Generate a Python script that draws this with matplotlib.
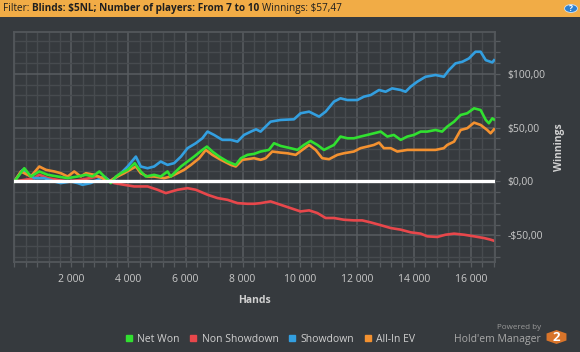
import matplotlib
matplotlib.use("Agg")
import matplotlib.pyplot as plt
from matplotlib.lines import Line2D
from matplotlib.patches import Rectangle, RegularPolygon, Circle
from matplotlib.ticker import MultipleLocator, FixedLocator, FixedFormatter

plt.rcParams['font.family'] = ['Open Sans', 'DejaVu Sans']

# ---------------- data ----------------
net_hands = [0, 350, 580, 875, 1170, 1520, 1870, 2220, 2510, 2740, 2980, 3210, 3380, 3560, 3730, 3970,
             4220, 4430, 4610, 4900, 5130, 5370, 5480, 5600, 5840, 6070, 6300, 6590, 6750, 6940, 7180,
             7470, 7760, 7940, 8170, 8400, 8630, 8920, 9100, 9330, 9680, 9920, 10150, 10380, 10620,
             10850, 11200, 11430, 11670, 11900, 12130, 12370, 12600, 12840, 13070, 13300, 13540, 13770,
             14000, 14240, 14470, 14760, 14990, 15170, 15410, 15640, 15870, 16110, 16340, 16520, 16630,
             16750, 16810]
net_won = [0, 12.3, 4.6, 9.3, 6.2, 4.6, 3.1, 4.6, 6.2, 4.6, 9.3, 3.1, -1.5, 4.6, 7.7, 10.8,
           17.0, 9.3, 4.6, 6.2, 4.6, 9.3, 4.6, 7.7, 13.9, 18.5, 23.1, 29.3, 32.4, 27.8, 23.1,
           18.5, 15.4, 21.6, 24.7, 25.6, 27.8, 29.3, 35.5, 33.0, 30.9, 29.3, 33.9, 37.6, 33.9,
           29.3, 33.9, 41.7, 40.1, 40.1, 41.7, 43.2, 44.7, 46.3, 41.7, 43.2, 38.6, 41.7,
           43.2, 46.3, 46.3, 47.8, 46.3, 50.9, 55.5, 61.7, 63.3, 67.9, 66.3, 57.1, 54.0,
           58.6, 57.5]

nsd_hands = [0, 350, 700, 875, 1170, 1520, 1870, 2330, 2920, 3270, 3500, 3850, 4200, 4670, 5020,
             5310, 5720, 6070, 6360, 6770, 7120, 7470, 7820, 8170, 8400, 8630, 8980, 9330, 9680,
             10030, 10330, 10620, 10910, 11200, 11550, 11900, 12190, 12490, 12780, 13190, 13540,
             13890, 14240, 14470, 14820, 15110, 15410, 15760, 16110, 16460, 16690, 16810]
non_showdown = [0, 1.5, 3.1, 6.2, 3.1, 1.5, 0, 1.5, 4.6, 1.5, -1.5, -3.1, -4.6, -4.6, -7.7,
                -10.8, -7.7, -6.2, -7.7, -12.3, -15.4, -17.0, -20.1, -20.7, -20.7, -20.1, -18.5, -21.6, -24.7,
                -27.8, -26.8, -29.3, -33.9, -33.9, -35.5, -36.1, -36.1, -38.0, -40.1, -43.2, -44.7,
                -47.2, -48.4, -50.9, -51.5, -49.4, -48.4, -49.4, -50.9, -52.5, -54.0, -55.0]

sd_hands = [0, 290, 700, 1050, 1400, 1630, 1980, 2220, 2390, 2680, 2920, 3150, 3380, 3680, 3970,
            4260, 4430, 4670, 4900, 5130, 5370, 5600, 5840, 6070, 6360, 6590, 6770, 7000, 7290,
            7590, 7820, 8050, 8290, 8470, 8630, 8980, 9330, 9800, 10030, 10330, 10680, 10910, 11200,
            11430, 11670, 12020, 12250, 12490, 12780, 13010, 13240, 13540, 13710, 13890, 14120, 14410,
            14760, 15050, 15230, 15460, 15700, 15930, 16160, 16340, 16520, 16750, 16810]
showdown = [0, 10.8, 3.1, 3.1, 0, -1.5, 0, -1.5, -3.1, -1.5, 1.5, 4.6, 0, 6.2, 13.9,
            23.1, 13.9, 12.3, 13.9, 18.5, 15.4, 17.0, 23.1, 30.9, 35.5, 40.1, 46.3, 43.2, 38.6,
            38.6, 37.0, 43.2, 46.3, 48.4, 46.3, 55.5, 57.1, 57.7, 63.3, 64.8, 60.2, 64.8, 74.1,
            77.2, 75.6, 75.6, 78.7, 80.2, 84.9, 83.3, 86.4, 84.9, 83.3, 88.0, 92.6, 97.2,
            98.8, 97.2, 103.4, 109.6, 111.1, 114.2, 120.4, 120.4, 112.6, 110.5, 112.5]

ev_hands = [0, 230, 580, 875, 1110, 1400, 1630, 1870, 2100, 2330, 2510, 2800, 3090, 3330, 3500,
            3850, 4260, 4430, 4670, 4900, 5250, 5480, 5720, 5950, 6190, 6480, 6710, 6940, 7240,
            7590, 7760, 7990, 8400, 8630, 8810, 9040, 9330, 9570, 9860, 10090, 10330, 10560, 10790,
            11030, 11320, 11550, 11900, 12130, 12370, 12600, 12780, 12950, 13190, 13420, 13770, 14120,
            14470, 14760, 15050, 15170, 15410, 15640, 15870, 16110, 16340, 16570, 16690, 16810]
all_in_ev = [0, 9.3, 4.6, 13.9, 10.8, 9.3, 7.7, 4.6, 9.3, 4.6, 7.7, 6.2, 3.1, 0, 3.1,
             7.7, 13.9, 7.7, 4.6, 4.6, 3.1, 4.6, 7.7, 10.8, 15.4, 21.6, 29.3, 24.7, 20.1,
             15.4, 13.9, 20.1, 21.6, 20.1, 21.6, 27.8, 26.8, 26.2, 24.7, 29.3, 33.9, 29.3, 21.6,
             20.7, 24.7, 26.2, 27.8, 30.9, 32.4, 33.9, 36.1, 30.9, 30.9, 27.8, 29.3, 29.3,
             29.3, 29.3, 30.9, 33.9, 37.0, 47.8, 49.4, 54.6, 52.5, 47.8, 44.7, 48.4]

series_names = ["Net Won", "Non Showdown", "Showdown", "All-In EV"]
series_colors = ["#31e030", "#e8474b", "#339fe0", "#f39130"]

x_ticks = [2000, 4000, 6000, 8000, 10000, 12000, 14000, 16000]
x_tick_labels = ["2 000", "4 000", "6 000", "8 000", "10 000", "12 000", "14 000", "16 000"]
y_ticks = [-50, 0, 50, 100]
y_tick_labels = ["-$50,00", "$0,00", "$50,00", "$100,00"]

# ---------------- figure ----------------
BG = "#363a3e"
W, H = 580, 352
fig = plt.figure(figsize=(W / 100, H / 100), dpi=100, facecolor=BG)

def fx(px):
    return px / W

def fy(py):
    return 1 - py / H

ax = fig.add_axes([fx(14.3), fy(262.3), fx(494.6 - 14.3), (262.3 - 31.7) / H])
ax.set_facecolor(BG)

data = [(net_hands, net_won), (nsd_hands, non_showdown), (sd_hands, showdown), (ev_hands, all_in_ev)]
zorders = [5, 2, 3, 4]
for (hx, vy), c, z in zip(data, series_colors, zorders):
    ax.plot(hx, vy, color=c, lw=1.9, zorder=z, solid_joinstyle='round')

ax.axhline(0, color="white", lw=2.4, zorder=6)

ax.set_xlim(0, 16830)
ax.set_ylim(-75, 139)

ax.xaxis.set_major_locator(FixedLocator(x_ticks))
ax.xaxis.set_major_formatter(FixedFormatter(x_tick_labels))
ax.xaxis.set_minor_locator(MultipleLocator(400))
ax.yaxis.set_major_locator(FixedLocator(y_ticks))
ax.yaxis.set_major_formatter(FixedFormatter(y_tick_labels))
ax.yaxis.set_minor_locator(MultipleLocator(10))
ax.yaxis.tick_right()
ax.yaxis.set_label_position("right")

ax.grid(which="minor", color="#474b4f", lw=1.0, zorder=0)
ax.grid(which="major", color="#595d61", lw=1.1, zorder=0)
ax.set_axisbelow(True)

for s in ax.spines.values():
    s.set_color("#53575b")
    s.set_linewidth(1.3)

ax.tick_params(axis="both", which="both", colors="#575b5f", labelcolor="#c9c9c9",
               labelsize=7.5, length=3.5, width=0.9)
ax.tick_params(axis="x", which="major", pad=5)
ax.tick_params(axis="y", which="major", pad=6)
ax.tick_params(axis="y", which="both", left=False, right=True)

ax.set_xlabel("Hands", color="#d0d0d0", fontsize=7.5, fontweight="bold", labelpad=7)
ax.set_ylabel("Winnings", color="#d0d0d0", fontsize=7.5, fontweight="bold", labelpad=6)

# ---------------- header bar ----------------
fig.patches.append(Rectangle((0, fy(16.5)), 1, 16.5 / H, transform=fig.transFigure,
                             facecolor="#f1ac46", edgecolor="none", zorder=1))
fig.patches.append(Circle((fx(571), fy(8.5)), 6.5 / W, transform=fig.transFigure,
                          facecolor="#2d7fd0", edgecolor="#cfe3f7", lw=0.6, zorder=2))
fig.text(fx(571), fy(8.8), "?", color="white", fontsize=6, fontweight="bold",
         ha="center", va="center", zorder=3)

renderer = fig.canvas.get_renderer()
x_cur = 3
parts = [("Filter: ", "normal"), ("Blinds: $5NL; Number of players: From 7 to 10 ", "bold"),
         ("Winnings: $57,47", "normal")]
for txt, wt in parts:
    t = fig.text(fx(x_cur), fy(8.5), txt, color="#1f1f1f", fontsize=7.2, fontweight=wt,
                 ha="left", va="center", zorder=3)
    bb = t.get_window_extent(renderer=renderer)
    x_cur += bb.width

# ---------------- legend ----------------
handles = [Line2D([], [], ls="none", marker="s", markersize=4, color=c) for c in series_colors]
fig.legend(handles, series_names, loc="center", bbox_to_anchor=(fx(270.5), fy(339)), ncol=4,
           frameon=False, fontsize=7.5, labelcolor="#d0d0d0", handlelength=0.6,
           handletextpad=0.5, columnspacing=1.0, borderpad=0)

# ---------------- watermark ----------------
fig.text(fx(541), fy(327.5), "Powered by", color="#9a9a9a", fontsize=5.8, ha="right", va="center")
fig.text(fx(541), fy(339.5), "Hold'em Manager", color="#a8a8a8", fontsize=7.5, ha="right", va="center")
fig.patches.append(RegularPolygon((fx(556.5), fy(337)), numVertices=6, radius=11.5 / W,
                                  orientation=0, transform=fig.transFigure,
                                  facecolor="#d8742a", edgecolor="none", zorder=2))
fig.text(fx(556.5), fy(337.5), "2", color="white", fontsize=9.5, fontweight="bold",
         ha="center", va="center", zorder=3)

fig.savefig("out.png", dpi=100, facecolor=BG)
